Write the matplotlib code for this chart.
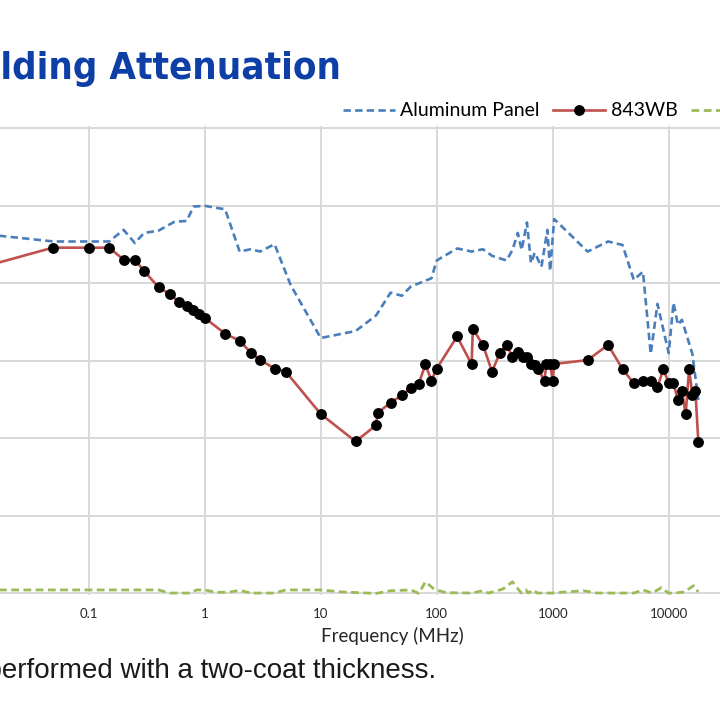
import matplotlib
matplotlib.use("Agg")
import matplotlib.pyplot as plt
from matplotlib.lines import Line2D

# ---------------- data ----------------
freq_al = [0.01, 0.05, 0.15, 0.2, 0.25, 0.3, 0.4, 0.55, 0.7, 0.8, 1.0, 1.5, 2, 2.5, 3, 4,
           5.5, 10, 20, 30, 40, 50, 60, 90, 100, 150, 200, 250, 300, 400, 450, 500,
           540, 600, 650, 700, 800, 900, 950, 1030, 2000, 3000, 4000, 5000, 6000,
           7000, 8000, 10000, 11000, 12000, 13000, 16000, 18000]
db_al = [93.0, 90.8, 90.8, 93.8, 90.4, 93.0, 93.6, 95.9, 96.1, 99.8, 100.0, 99.1, 88.2, 88.8,
         88.2, 90.1, 79.6, 65.9, 67.7, 71.7, 77.6, 76.8, 79.2, 81.3, 85.9, 89.0, 88.2,
         88.8, 87.1, 85.9, 88.6, 93.0, 88.6, 95.7, 85.2, 87.9, 84.3, 93.8, 83.2, 96.6,
         88.2, 90.8, 89.9, 80.9, 83.0, 61.8, 74.7, 62.0, 75.0, 69.3, 70.6, 61.8, 49.9]

freq_wb = [0.01, 0.049, 0.1, 0.15, 0.2, 0.25, 0.3, 0.4, 0.5, 0.6, 0.7, 0.8, 0.9, 1.0,
           1.5, 2, 2.5, 3, 4, 5, 10, 20, 30, 31, 40, 50, 60, 70, 80, 90, 100, 150,
           200, 205, 250, 300, 350, 400, 450, 500, 550, 600, 650, 700, 750, 850, 880,
           950, 1000, 1030, 2000, 3000, 4000, 5000, 6000, 7000, 8000, 9000, 10000,
           11000, 12000, 13000, 14000, 15000, 16000, 17000, 18000]
db_wb = [83.5, 89.2, 89.2, 89.2, 86.1, 86.1, 83.2, 79.0, 77.2, 75.3, 74.1, 73.1, 72.2,
         71.1, 67.0, 65.2, 62.1, 60.3, 58.0, 57.2, 46.3, 39.2, 43.4, 46.6, 49.2, 51.1,
         53.0, 54.1, 59.1, 54.9, 58.0, 66.3, 59.1, 68.2, 64.2, 57.2, 62.1, 64.1, 61.0,
         62.2, 61.0, 61.0, 59.2, 59.0, 57.8, 54.9, 59.1, 59.1, 54.9, 59.2, 60.2, 64.1,
         57.9, 54.2, 54.9, 54.9, 53.2, 57.9, 54.2, 54.2, 49.9, 52.3, 46.2, 57.9, 51.2,
         52.3, 39.1]

freq_ctrl = [0.01, 0.4, 0.5, 0.75, 0.85, 1.0, 1.25, 1.6, 2, 2.5, 4, 5, 10, 15, 30, 40,
             60, 70, 80, 95, 120, 200, 250, 280, 370, 450, 510, 537, 589, 615, 674,
             738, 971, 1840, 2420, 5010, 6000, 7220, 8660, 9930, 11380, 13650, 16390,
             17950]
db_ctrl = [0.9, 0.9, 0.1, 0.1, 0.9, 0.9, 0.3, 0.3, 0.8, 0.1, 0.1, 0.9, 0.9, 0.4, 0.0,
           0.7, 0.9, 0.0, 3.0, 1.1, 0.2, 0.1, 0.7, 0.1, 1.1, 3.0, 0.9, 0.1, 0.9, 0.1,
           0.9, 0.1, 0.1, 0.7, 0.1, 0.1, 0.9, 0.1, 1.5, 0.1, 0.1, 0.4, 2.0, 0.4]

series_names = ["Aluminum Panel", "843WB", "Uncoated Panel"]
xticks = [0.1, 1, 10, 100, 1000, 10000]
xtick_labels = ["0.1", "1", "10", "100", "1000", "10000"]
yticks = [0, 20, 40, 60, 80, 100, 120]
title = "Shielding Attenuation"
xlabel = "Frequency (MHz)"
footnote = "Testing performed with a two-coat thickness."

# ---------------- styles ----------------
C_BLUE = "#4a7ebb"
C_RED = "#c0504d"
C_GREEN = "#9bbb59"
C_GRID = "#d9d9d9"
BODY_FONT = ["Lato", "DejaVu Sans"]

fig = plt.figure(figsize=(7.2, 7.2), dpi=100)
ax = fig.add_axes([0, 0.1731, 1, 0.6514])
ax.set_xscale("log")
ax.set_xlim(0.01719, 27690)
ax.set_ylim(-0.5, 120.5)

for s in ax.spines.values():
    s.set_visible(False)

ax.set_xticks(xticks)
ax.set_xticklabels(xtick_labels, fontfamily=BODY_FONT, fontsize=9.5, color="#262626")
ax.xaxis.set_minor_locator(matplotlib.ticker.NullLocator())
ax.set_yticks(yticks)
ax.tick_params(axis="x", length=0, pad=9)
ax.tick_params(axis="y", left=False, labelleft=False, length=0)
ax.grid(True, which="major", color=C_GRID, linewidth=1.4)
ax.set_axisbelow(True)

dash = (0, (2.8, 1.6))
ax.plot(freq_ctrl, db_ctrl, color=C_GREEN, lw=2.0, linestyle=dash, zorder=3)
ax.plot(freq_al, db_al, color=C_BLUE, lw=1.9, linestyle=dash, zorder=3)
ax.plot(freq_wb, db_wb, color=C_RED, lw=1.9, marker="o", markersize=6.8,
        markerfacecolor="black", markeredgecolor="black", zorder=4)

ax.set_xlabel(xlabel, fontfamily=BODY_FONT, fontsize=13.5, color="#262626")
ax.xaxis.set_label_coords(392.5 / 720, -0.068)

handles = [
    Line2D([], [], color=C_BLUE, lw=1.9, linestyle=dash),
    Line2D([], [], color=C_RED, lw=1.9, marker="o", markersize=6.8,
           markerfacecolor="black", markeredgecolor="black"),
    Line2D([], [], color=C_GREEN, lw=2.0, linestyle=dash),
]
fig.legend(handles, series_names, loc="center left",
           bbox_to_anchor=(343 / 720, 1 - 111 / 720), ncol=3, frameon=False,
           borderpad=0, borderaxespad=0, handlelength=2.65, handletextpad=0.3,
           columnspacing=0.7, prop={"family": BODY_FONT, "size": 14})

fig.text(341 / 720, 1 - 79 / 720, title, ha="right", va="baseline",
         fontsize=27.5, fontweight="bold", fontstretch="condensed", color="#0d3fa6",
         family=["DejaVu Sans"])

fig.text(436 / 720, 1 - 671 / 720, footnote, ha="right", va="center",
         fontsize=20, color="#1a1a1a", family=["Liberation Sans", "DejaVu Sans"])

fig.savefig("out.png", dpi=100)
